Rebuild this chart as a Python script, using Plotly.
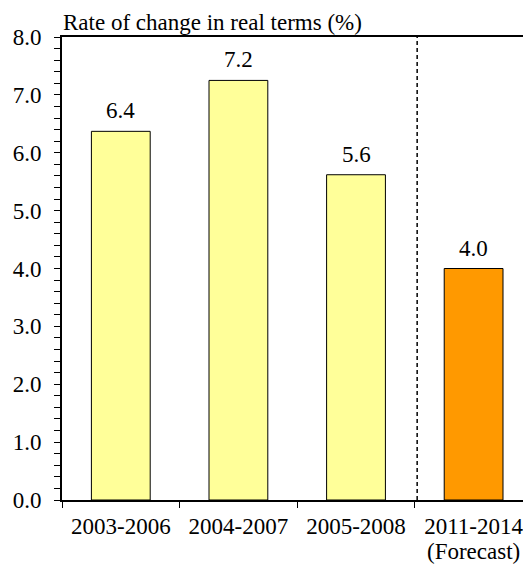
import plotly.graph_objects as go

categories = ["2003-2006", "2004-2007", "2005-2008", "2011-2014"]
forecast_note = "(Forecast)"
values = [6.37, 7.25, 5.62, 4.0]
labels = ["6.4", "7.2", "5.6", "4.0"]
colors = ["#FFFF99", "#FFFF99", "#FFFF99", "#FF9900"]
y_ticks = [0, 1, 2, 3, 4, 5, 6, 7, 8]
y_tick_labels = ["0.0", "1.0", "2.0", "3.0", "4.0", "5.0", "6.0", "7.0", "8.0"]
title_text = "Rate of change in real terms (%)"

font_family = "Liberation Serif"
fs = 23

fig = go.Figure()
fig.add_trace(go.Bar(
    x=categories, y=values,
    marker=dict(color=colors, line=dict(color="black", width=1)),
    width=0.5,
))

for c, v, t in zip(categories, values, labels):
    fig.add_annotation(x=c, y=v, text=t, xref="x", yref="y", showarrow=False,
                       yanchor="bottom", yshift=6,
                       font=dict(family=font_family, size=fs, color="black"))

fig.add_annotation(x=categories[-1], y=0, xref="x", yref="paper", text=forecast_note,
                   showarrow=False, yanchor="middle", yshift=-51,
                   font=dict(family=font_family, size=fs, color="black"))

fig.add_shape(type="line", xref="x", yref="paper", x0=2.52, x1=2.52, y0=0, y1=1,
              line=dict(color="black", width=1.5, dash="4px,3px"))

fig.add_annotation(text=title_text, xref="paper", yref="paper", x=0, y=1,
                   xanchor="left", yanchor="bottom", xshift=-1, yshift=0,
                   showarrow=False, font=dict(family=font_family, size=fs, color="black"))

fig.update_layout(
    width=523, height=568,
    margin=dict(l=62, r=0, t=37, b=68),
    paper_bgcolor="white", plot_bgcolor="white",
    showlegend=False,
    font=dict(family=font_family, size=fs, color="black"),
    xaxis=dict(
        type="category", range=[-0.5, 3.42], tickson="boundaries",
        ticks="outside", ticklen=6, tickcolor="black", tickwidth=1,
        showline=True, linecolor="black", linewidth=2, mirror=True,
        showgrid=False, tickfont=dict(family=font_family, size=fs, color="black"),
        ticklabelstandoff=4,
    ),
    yaxis=dict(
        range=[0, 8], tickvals=y_ticks, ticktext=y_tick_labels,
        ticks="outside", ticklen=6, tickcolor="black", tickwidth=1,
        minor=dict(dtick=0.2, ticks="outside", ticklen=6, tickcolor="black", tickwidth=1),
        showline=True, linecolor="black", linewidth=2,
        showgrid=False, zeroline=False,
        tickfont=dict(family=font_family, size=fs, color="black"),
        ticklabelstandoff=8,
    ),
)

fig.write_html("out.html")
